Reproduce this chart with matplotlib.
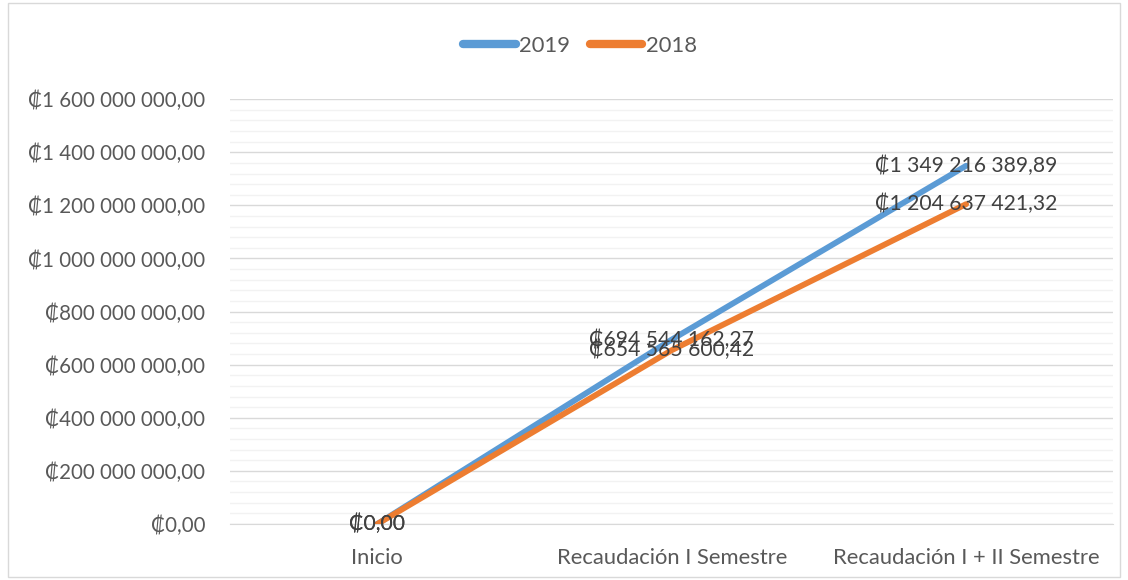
import matplotlib.pyplot as plt
from matplotlib.patches import Rectangle
from matplotlib.ticker import FuncFormatter, MultipleLocator

categories = ["Inicio", "Recaudación I Semestre", "Recaudación I + II Semestre"]
values_2019 = [0.0, 694544162.27, 1349216389.89]
values_2018 = [0.0, 654565600.42, 1204637421.32]

FONT = ["Lato", "DejaVu Sans"]
plt.rcParams["font.family"] = FONT


def colones(v):
    s = f"{v:,.2f}"
    s = s.replace(",", " ").replace(".", ",")
    return "\u20a1" + s


fig = plt.figure(figsize=(11.28, 5.8), dpi=100)
ax = fig.add_axes([0.204, 0.0966, 0.783, 0.7324])

x = list(range(len(categories)))
series = [("2019", values_2019, "#5B9BD5"), ("2018", values_2018, "#ED7D31")]

for name, vals, color in series:
    ax.plot(x, vals, color=color, lw=4.2, solid_capstyle="round", label=name, zorder=3)

for name, vals, color in series:
    for xi, v in zip(x, vals):
        ax.text(xi, v, colones(v), ha="center", va="center", fontsize=15.2,
                color="#404040", zorder=4)

ax.set_xlim(-0.5, len(categories) - 0.5)
ax.set_ylim(0, 1.6e9)
ax.yaxis.set_major_locator(MultipleLocator(2e8))
ax.yaxis.set_minor_locator(MultipleLocator(4e7))
ax.yaxis.set_major_formatter(FuncFormatter(lambda v, p: colones(v)))
ax.grid(which="major", axis="y", color="#D9D9D9", lw=1.0, zorder=0)
ax.grid(which="minor", axis="y", color="#F2F2F2", lw=1.0, zorder=0)
ax.set_xticks(x)
ax.set_xticklabels(categories)
ax.tick_params(axis="both", which="both", length=0, colors="#595959")
ax.tick_params(axis="x", pad=17, labelsize=15.8)
ax.tick_params(axis="y", pad=18, labelsize=14.8)
for sp in ["top", "right", "left"]:
    ax.spines[sp].set_visible(False)
ax.spines["bottom"].set_color("#D9D9D9")

leg = fig.legend(loc="center", bbox_to_anchor=(0.514, 0.921), ncol=2, frameon=False,
                 fontsize=15.8, handlelength=2.4, handletextpad=0.15, columnspacing=0.9)
for t in leg.get_texts():
    t.set_color("#595959")
for h in leg.get_lines():
    h.set_linewidth(6)
    h.set_solid_capstyle("round")

fig.patches.append(Rectangle((0.007, 0.005), 0.986, 0.99, transform=fig.transFigure,
                             fill=False, edgecolor="#D9D9D9", lw=1.0))

fig.savefig("out.png", dpi=100, facecolor="white")
